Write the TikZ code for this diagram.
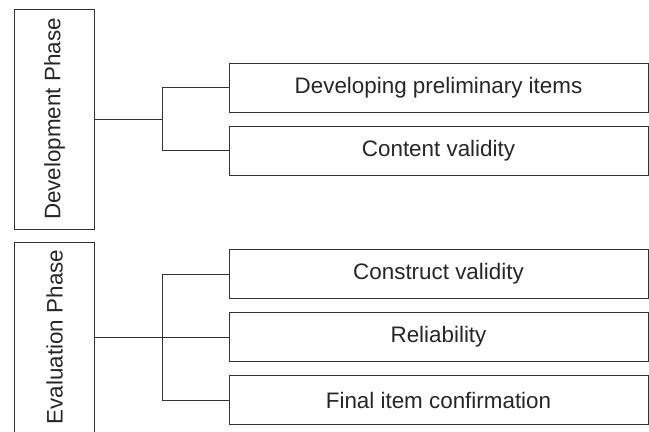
\documentclass[tikz,border=0pt]{standalone}
\usepackage{fontspec}
\setmainfont{Liberation Sans}

\begin{document}
\begin{tikzpicture}[x=1bp, y=-1bp, grow'=right,
  level distance=384bp, sibling distance=63bp,
  every node/.style = {font=\fontsize{22.4bp}{26bp}\selectfont, text=black!85},
  phase/.style = {shape=rectangle, draw=black!80, line width=1bp,
    rotate=90, minimum height=79bp, inner sep=0pt},
  task/.style = {shape=rectangle, draw=black!80, line width=1bp,
    minimum width=419bp, minimum height=49bp, inner sep=0pt},
  edge from parent/.style = {draw=black!80, line width=1bp},
  edge from parent path = {(\tikzparentnode.south) -- ++(67.5,0)
    |- (\tikzchildnode.west)}]
  \useasboundingbox (0,0) rectangle (649,431);
  \node[phase, minimum width=220bp] (dev) at (54.5,119) {Development Phase}
  child { node[task] (prelim) {Developing preliminary items} }
  child { node[task] (content) {Content validity} };
  \node[phase, minimum width=190bp] (eval) at (54.5,337) {Evaluation Phase}
  child { node[task] (construct) {Construct validity} }
  child { node[task] (reliab) {Reliability} }
  child { node[task] (final) {Final item confirmation} };
\end{tikzpicture}
\end{document}
